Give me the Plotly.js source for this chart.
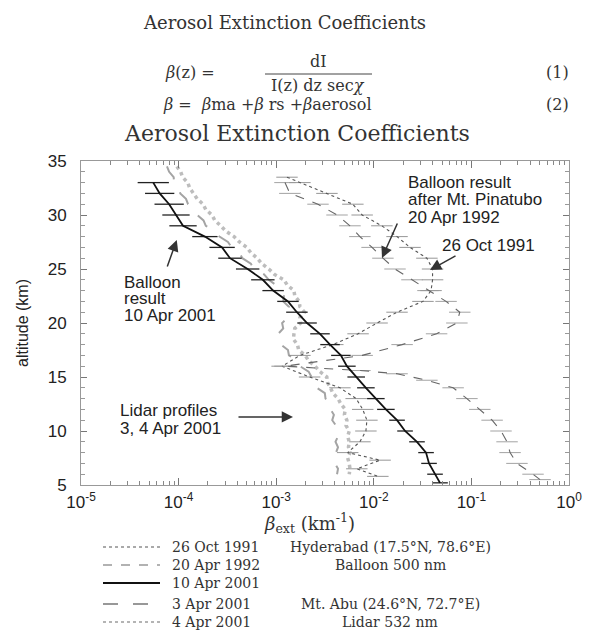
<!DOCTYPE html>
<html><head><meta charset="utf-8">
<script src="https://cdn.plot.ly/plotly-3.0.1.min.js"></script>
<style>html,body{margin:0;padding:0;background:#fff}#chart{width:601px;height:630px}</style>
</head><body><div id="chart"></div><script>
// Lidar profiles, Mt. Abu, 3 and 4 Apr 2001 (altitude km, extinction km^-1)
const lidarAlt = [34.5,34,33.5,33,32.5,32,31.5,31,30.5,30,29.5,29,28.5,28,27.5,27,26.5,26,25.5,25,24.5,24,23.5,23,22.5,22,21.5,21,20.5,20,19.5,19,18.5,18,17.5,17,16.5,16,15.5,15,14.5,14,13.5,13,12.5,12,11.5,11,10.5,10,9.5,9,8.5,8,7.5,7,6.5,6];
const lidar3Apr = [7.6e-5,8.0e-5,8.9e-5,9.0e-5,1.01e-4,1.04e-4,1.19e-4,1.25e-4,1.45e-4,1.55e-4,1.80e-4,1.90e-4,2.35e-4,2.62e-4,3.2e-4,3.5e-4,4.2e-4,4.5e-4,5.5e-4,5.9e-4,7.5e-4,8.4e-4,1.0e-3,1.05e-3,1.2e-3,1.18e-3,1.35e-3,1.30e-3,1.32e-3,1.15e-3,1.18e-3,1.05e-3,1.15e-3,1.12e-3,1.32e-3,1.35e-3,1.68e-3,1.75e-3,2.15e-3,2.3e-3,2.65e-3,2.6e-3,3.15e-3,3.2e-3,3.7e-3,3.6e-3,3.9e-3,3.75e-3,4.1e-3,4.0e-3,4.3e-3,4.05e-3,4.3e-3,4.1e-3,4.25e-3,4.0e-3,4.3e-3,4.2e-3];
const lidar4Apr = [9.6e-5,1.05e-4,1.1e-4,1.24e-4,1.3e-4,1.42e-4,1.55e-4,1.78e-4,1.9e-4,2.2e-4,2.35e-4,2.7e-4,3.05e-4,3.7e-4,4.2e-4,5.0e-4,5.5e-4,6.4e-4,7.1e-4,8.4e-4,9.6e-4,1.2e-3,1.3e-3,1.52e-3,1.55e-3,1.72e-3,1.75e-3,1.95e-3,1.75e-3,1.78e-3,1.55e-3,1.52e-3,1.5e-3,1.65e-3,1.7e-3,1.98e-3,2.15e-3,2.5e-3,2.8e-3,3.3e-3,3.35e-3,3.6e-3,3.8e-3,4.3e-3,4.6e-3,5.1e-3,5.0e-3,5.3e-3,5.2e-3,5.6e-3,5.4e-3,5.6e-3,5.5e-3,5.7e-3,5.4e-3,5.6e-3,5.7e-3,5.6e-3];

// Balloon profiles, Hyderabad (500 nm)
const oct91Alt = [33.5,33,32,31,30,29,28,27,26,25,24,23,22,21,20,19,18,17,16,15,14,13,12,11,10,9,8,7.3,6.5,5.8];
const oct91Val = [1.29e-3,1.75e-3,3.31e-3,6.1e-3,7.6e-3,1.21e-2,1.73e-2,2.35e-2,3.5e-2,4.0e-2,4.0e-2,3.86e-2,3.19e-2,1.73e-2,1.08e-2,6.9e-3,3.8e-3,1.75e-3,1.15e-3,2.2e-3,4.5e-3,6.6e-3,7.7e-3,8.5e-3,8.3e-3,7.2e-3,5.4e-3,1.16e-2,6.7e-3,1.1e-2];
const apr92Alt = [33,32,31,30,29,28,27,26,25,24,23,22,21,20,19,18,17,16,15.6,15.3,14.7,14,13,12,11,10,9,8,7,6,5.5];
const apr92Val = [1.23e-3,1.38e-3,2.68e-3,4.2e-3,5.7e-3,7.2e-3,9.6e-3,1.24e-2,1.65e-2,2.46e-2,3.59e-2,5.5e-2,7.6e-2,7.1e-2,4.4e-2,1.95e-2,7.6e-3,1.23e-3,7.2e-3,1.73e-2,3.5e-2,6.5e-2,9.0e-2,0.122,0.163,0.201,0.232,0.249,0.293,0.428,0.505];
const apr01Alt = [33,32,31,30,29,28,27,26,25,24,23,22,21,20,19,18,17,16,15,14,13,12,11,10,9,8,7,6,5.2];
const apr01Val = [5.5e-5,6.4e-5,8.0e-5,9.4e-5,1.11e-4,1.86e-4,2.79e-4,3.36e-4,5.1e-4,7.3e-4,9.3e-4,1.32e-3,1.63e-3,2.07e-3,2.81e-3,3.56e-3,4.6e-3,5.3e-3,6.6e-3,8.3e-3,1.05e-2,1.33e-2,1.73e-2,2.09e-2,2.77e-2,3.43e-2,3.68e-2,4.24e-2,4.77e-2];
// half-width of each uncertainty bar, in decades
const apr01BarDec = [0.16,0.15,0.15,0.14,0.14,0.13,0.13,0.12,0.12,0.12,0.11,0.11,0.11,0.10,0.10,0.10,0.10,0.09,0.09,0.09,0.09,0.09,0.08,0.08,0.08,0.08,0.08,0.08,0.08];
const oldBarDec = 0.11;

const xTickVals = [1e-5,1e-4,1e-3,1e-2,1e-1,1];
const xTickText = ['10<sup>-5</sup>','10<sup>-4</sup>','10<sup>-3</sup>','10<sup>-2</sup>','10<sup>-1</sup>','10<sup>0</sup>'];
const yTickVals = [5,10,15,20,25,30,35];

function bars(vals, dec) {
  const d = i => Array.isArray(dec) ? dec[i] : dec;
  return {
    type: 'data', symmetric: false,
    array: vals.map((v, i) => v * (Math.pow(10, d(i)) - 1)),
    arrayminus: vals.map((v, i) => v * (1 - Math.pow(10, -d(i)))),
    width: 0
  };
}

const traces = [
  {x: lidar4Apr, y: lidarAlt, mode: 'lines', name: '4 Apr 2001',
   line: {color: '#bdbdbd', width: 3.5, dash: 'dot'}},
  {x: lidar3Apr, y: lidarAlt, mode: 'lines', name: '3 Apr 2001',
   line: {color: '#a4a4a4', width: 2, dash: 'longdash'}},
  {x: oct91Val, y: oct91Alt, mode: 'lines', name: '26 Oct 1991',
   line: {color: '#555', width: 1.1, dash: 'dot'},
   error_x: Object.assign(bars(oct91Val, oldBarDec), {color: '#8a8a8a', thickness: 0.9})},
  {x: apr92Val, y: apr92Alt, mode: 'lines', name: '20 Apr 1992',
   line: {color: '#666', width: 1.1, dash: 'dash'},
   error_x: Object.assign(bars(apr92Val, oldBarDec), {color: '#999', thickness: 0.9})},
  {x: apr01Val, y: apr01Alt, mode: 'lines', name: '10 Apr 2001',
   line: {color: '#111', width: 1.8},
   error_x: Object.assign(bars(apr01Val, apr01BarDec), {color: '#222', thickness: 1.3})}
];

// plot area spans 81..569 px horizontally and 161..485 px vertically
const px = x => (x - 81) / 488;
const py = y => (485 - y) / 324;

const serif = 'DejaVu Serif, Liberation Serif, serif';
const sans = 'Liberation Sans, Arial, sans-serif';

function txt(text, x, y, opts) {
  return Object.assign({xref: 'paper', yref: 'paper', x: px(x), y: py(y), text: text,
    showarrow: false, xanchor: 'left', yanchor: 'middle',
    font: {family: sans, size: 17, color: '#222'}}, opts || {});
}
function serifTxt(text, x, y, size, anchor) {
  return txt(text, x, y, {xanchor: anchor || 'left', font: {family: serif, size: size, color: '#333'}});
}
function arrow(xLog, y, ax, ay) {
  return {xref: 'x', yref: 'y', x: xLog, y: y, ax: ax, ay: ay, text: '',
    showarrow: true, arrowhead: 2, arrowsize: 1.5, arrowwidth: 1.5, arrowcolor: '#333'};
}

const annotations = [
  serifTxt('Aerosol Extinction Coefficients', 284, 22, 18, 'center'),
  serifTxt('<i>β</i>(z) = ', 163, 73, 16),
  serifTxt('dI', 318, 62, 16, 'center'),
  serifTxt('I(z) dz sec<i>χ</i>', 318, 85, 16, 'center'),
  serifTxt('(1)', 557, 73, 16, 'center'),
  serifTxt('<i>β</i> =  <i>β</i>ma +<i>β</i> rs +<i>β</i>aerosol', 161, 104, 16),
  serifTxt('(2)', 557, 104, 16, 'center'),
  serifTxt('Aerosol Extinction Coefficients', 297, 133, 22, 'center'),

  txt('altitude (km)', 22, 323, {xanchor: 'center', textangle: -90, font: {family: sans, size: 16, color: '#222'}}),
  serifTxt('<i>β</i><sub>ext</sub> (km<sup>-1</sup>)', 309, 523, 18, 'center'),

  txt('Balloon', 122, 282), txt('result', 122, 298), txt('10 Apr 2001', 122, 315),
  txt('Lidar profiles', 118, 410), txt('3, 4 Apr 2001', 118, 428),
  txt('Balloon result', 406, 182), txt('after Mt. Pinatubo', 406, 199), txt('20 Apr 1992', 406, 217),
  txt('26 Oct 1991', 440, 245),

  arrow(-4.019, 27.69, -10, 28),
  arrow(-2.828, 11.30, -56, 0),
  arrow(-1.916, 26.02, 16, -36),
  arrow(-1.424, 24.91, 27, -15),

  serifTxt('26 Oct 1991', 170, 547, 14),
  serifTxt('20 Apr 1992', 170, 565, 14),
  serifTxt('10 Apr 2001', 170, 583, 14),
  serifTxt('3 Apr 2001', 170, 604, 14),
  serifTxt('4 Apr 2001', 170, 622, 14),
  serifTxt('Hyderabad (17.5°N, 78.6°E)', 390, 547, 14, 'center'),
  serifTxt('Balloon 500 nm', 390, 565, 14, 'center'),
  serifTxt('Mt. Abu (24.6°N, 72.7°E)', 390, 604, 14, 'center'),
  serifTxt('Lidar 532 nm', 390, 622, 14, 'center')
];

function keyLine(y, line) {
  return {type: 'line', xref: 'paper', yref: 'paper', x0: px(103), x1: px(160), y0: py(y), y1: py(y), line: line};
}
const shapes = [
  {type: 'line', xref: 'paper', yref: 'paper', x0: px(265), x1: px(372), y0: py(74), y1: py(74), line: {color: '#444', width: 1}},
  keyLine(547, {color: '#555', width: 1.2, dash: 'dot'}),
  keyLine(565, {color: '#666', width: 1.2, dash: 'dash'}),
  keyLine(583, {color: '#111', width: 1.8}),
  keyLine(604, {color: '#777', width: 1.4, dash: 'longdash'}),
  keyLine(622, {color: '#b4b4b4', width: 2, dash: 'dot'})
];

const layout = {
  width: 601, height: 630,
  margin: {l: 81, r: 32, t: 161, b: 145},
  paper_bgcolor: '#fff', plot_bgcolor: '#fff',
  showlegend: false,
  xaxis: {type: 'log', range: [-5, 0], tickvals: xTickVals, ticktext: xTickText,
    ticks: 'inside', ticklen: 7, tickcolor: '#777', showline: true, linecolor: '#999', linewidth: 1,
    mirror: 'allticks', showgrid: false, zeroline: false, ticklabelstandoff: 2,
    tickfont: {family: sans, size: 17, color: '#222'},
    minor: {dtick: 'D1', ticks: 'inside', ticklen: 4, tickcolor: '#888', showgrid: false}},
  yaxis: {range: [5, 35], tickvals: yTickVals,
    ticks: 'inside', ticklen: 6, tickcolor: '#777', showline: true, linecolor: '#999', linewidth: 1,
    mirror: 'allticks', showgrid: false, zeroline: false, ticklabelstandoff: 10,
    tickfont: {family: sans, size: 17, color: '#222'},
    minor: {dtick: 1, ticks: 'inside', ticklen: 4, tickcolor: '#999', showgrid: false}},
  annotations: annotations,
  shapes: shapes
};

Plotly.newPlot('chart', traces, layout, {staticPlot: true});
</script></body></html>
